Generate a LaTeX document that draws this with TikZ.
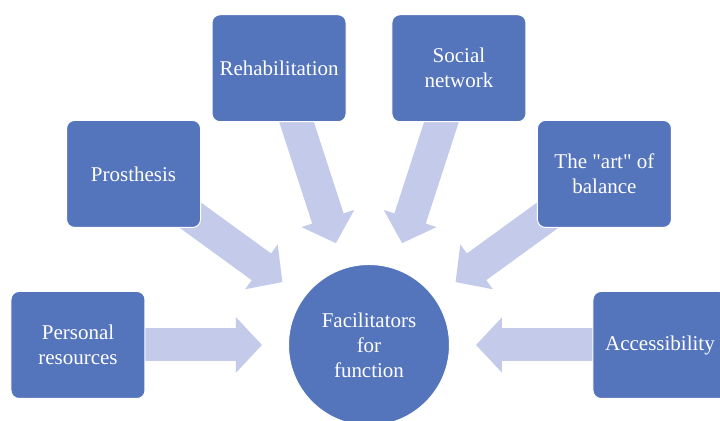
\documentclass[tikz,border=0pt]{standalone}
\usepackage{fontspec}
\newfontfamily\diagfont{Liberation Serif}
\usetikzlibrary{arrows.meta,calc,backgrounds}
\definecolor{boxblue}{RGB}{84,116,188}
\definecolor{arrowfill}{RGB}{196,203,234}
\tikzset{
  factor/.style={draw=white, line width=0.5pt, fill=boxblue, text=white,
    rounded corners=4pt, minimum width=67pt, minimum height=53.5pt,
    align=center, inner sep=1pt,
    font=\diagfont\fontsize{10.5pt}{12.5pt}\selectfont},
  hub/.style={circle, draw=white, line width=0.5pt, fill=boxblue, text=white,
    minimum size=80.5pt, inner sep=0pt, align=center,
    font=\diagfont\fontsize{10.5pt}{12.5pt}\selectfont},
  blockarrow/.style={draw=arrowfill, line width=16.5pt,
    -{Triangle[length=13pt,width=27pt,fill=arrowfill]}}
}
\begin{document}
\begin{tikzpicture}[x=0.5pt,y=0.5pt]
\useasboundingbox (0,0) rectangle (720,421);
\coordinate (c) at (369,76);
\node[hub] (hub) at (c) {Facilitators\\for\\function};
\node[factor] (pers) at ($(c)+(180:291)$) {Personal\\resources};
\node[factor] (pros) at ($(c)+(144:291)$) {Prosthesis};
\node[factor] (rehab) at ($(c)+(108:291)$) {Rehabilitation};
\node[factor] (soc) at ($(c)+(72:291)$) {Social\\network};
\node[factor] (bal) at ($(c)+(36:291)$) {The "art" of\\balance};
\node[factor] (acc) at ($(c)+(0:291)$) {Accessibility};
\coordinate (t1) at ($(c)+(180:107)$);
\coordinate (t2) at ($(c)+(144:107)$);
\coordinate (t3) at ($(c)+(108:107)$);
\coordinate (t4) at ($(c)+(72:107)$);
\coordinate (t5) at ($(c)+(36:107)$);
\coordinate (t6) at ($(c)+(0:107)$);
\begin{scope}[on background layer]
\draw[blockarrow] (pers.center) -- (t1);
\draw[blockarrow] (pros.center) -- (t2);
\draw[blockarrow] (rehab.center) -- (t3);
\draw[blockarrow] (soc.center) -- (t4);
\draw[blockarrow] (bal.center) -- (t5);
\draw[blockarrow] (acc.center) -- (t6);
\end{scope}
\end{tikzpicture}
\end{document}
